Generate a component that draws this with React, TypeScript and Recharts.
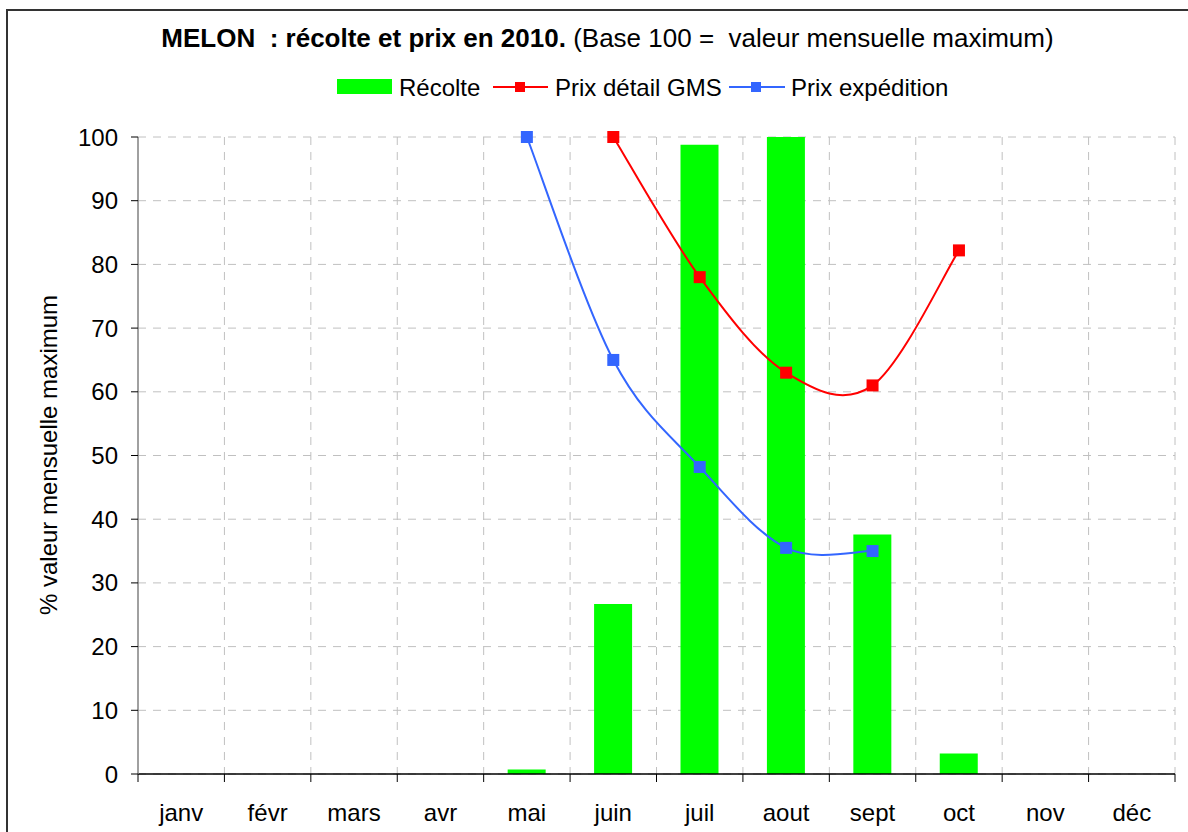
import React from 'react';
import { ComposedChart, Bar, Line, XAxis, YAxis, CartesianGrid } from 'recharts';

const months = ['janv', 'févr', 'mars', 'avr', 'mai', 'juin', 'juil', 'aout', 'sept', 'oct', 'nov', 'déc'];
const recolte: (number | null)[] = [null, null, null, null, 0.7, 26.7, 98.8, 100, 37.6, 3.2, null, null];
const prixDetail: (number | null)[] = [null, null, null, null, null, 100, 78, 63, 61, 82.2, null, null];
const prixExpedition: (number | null)[] = [null, null, null, null, 100, 65, 48.2, 35.5, 35, null, null, null];
const yTicks = [0, 10, 20, 30, 40, 50, 60, 70, 80, 90, 100];

const data = months.map((m, i) => ({
  month: m,
  recolte: recolte[i],
  prixDetail: prixDetail[i],
  prixExpedition: prixExpedition[i],
}));

const FONT = '"Liberation Sans", Arial, sans-serif';
const GREEN = '#00FF00';
const RED = '#FF0000';
const BLUE = '#3366FF';

// Excel-like smoothed line (Catmull-Rom converted to Bezier)
const excelCurve: any = (context: any) => {
  let pts: [number, number][] = [];
  return {
    areaStart() {},
    areaEnd() {},
    lineStart() {
      pts = [];
    },
    point(x: number, y: number) {
      pts.push([+x, +y]);
    },
    lineEnd() {
      const n = pts.length;
      if (n === 0) return;
      context.moveTo(pts[0][0], pts[0][1]);
      if (n === 1) {
        context.lineTo(pts[0][0], pts[0][1]);
        return;
      }
      for (let i = 0; i < n - 1; i++) {
        const p0 = pts[Math.max(0, i - 1)];
        const p1 = pts[i];
        const p2 = pts[i + 1];
        const p3 = pts[Math.min(n - 1, i + 2)];
        context.bezierCurveTo(
          p1[0] + (p2[0] - p0[0]) / 6,
          p1[1] + (p2[1] - p0[1]) / 6,
          p2[0] - (p3[0] - p1[0]) / 6,
          p2[1] - (p3[1] - p1[1]) / 6,
          p2[0],
          p2[1]
        );
      }
    },
  };
};

const squareDot = (color: string, name: string) => (props: any) => {
  const { cx, cy, index, value } = props;
  if (cx == null || cy == null || value == null || Number.isNaN(cy)) return <g key={`${name}-${index}`} />;
  return <rect key={`${name}-${index}`} x={cx - 6} y={cy - 6} width={12} height={12} fill={color} />;
};

const XTick = (props: any) => {
  const { x, y, payload, index } = props;
  const half = payload && typeof payload.offset === 'number' && payload.offset > 0 ? payload.offset : 1037 / 24;
  return (
    <g>
      <line x1={x - half} x2={x - half} y1={y} y2={y + 8} stroke="#000" strokeWidth={1} />
      {index === months.length - 1 && (
        <line x1={x + half} x2={x + half} y1={y} y2={y + 8} stroke="#000" strokeWidth={1} />
      )}
      <text x={x} y={y + 47} textAnchor="middle" fontSize={24} fontFamily={FONT} fill="#000">
        {payload.value}
      </text>
    </g>
  );
};

export default function App() {
  return (
    <div
      style={{
        position: 'fixed',
        left: 0,
        top: 0,
        width: 1188,
        height: 832,
        overflow: 'hidden',
        background: '#fff',
      }}
    >
      <div
        style={{
          position: 'absolute',
          left: 6,
          top: 9,
          width: 1400,
          height: 1000,
          border: '2px solid #333',
          boxSizing: 'border-box',
        }}
      />
      <div style={{ position: 'absolute', left: 0, top: 0 }}>
        <ComposedChart width={1188} height={832} data={data} margin={{ top: 137, right: 13, bottom: 0, left: 0 }}>
          <CartesianGrid
            stroke="#C0C0C0"
            strokeDasharray="8 7"
            verticalCoordinatesGenerator={(args: any) => {
              const off = args.offset;
              return months.map((_, i) => off.left + ((i + 1) * off.width) / months.length);
            }}
          />
          <XAxis
            dataKey="month"
            interval={0}
            tickSize={0}
            tickMargin={0}
            tickLine={false}
            axisLine={{ stroke: '#000', strokeWidth: 1.5 }}
            tick={<XTick />}
            height={58}
          />
          <YAxis
            domain={[0, 100]}
            ticks={yTicks}
            width={138}
            tickSize={7}
            tickMargin={13}
            axisLine={{ stroke: '#808080', strokeWidth: 1.5 }}
            tickLine={{ stroke: '#000' }}
            tick={{ fontSize: 24, fontFamily: FONT, fill: '#000' }}
            interval={0}
          />
          <Bar dataKey="recolte" fill={GREEN} barSize={38} isAnimationActive={false} />
          <Line
            dataKey="prixDetail"
            type={excelCurve}
            stroke={RED}
            strokeWidth={2}
            dot={squareDot(RED, 'r')}
            activeDot={false}
            isAnimationActive={false}
          />
          <Line
            dataKey="prixExpedition"
            type={excelCurve}
            stroke={BLUE}
            strokeWidth={2}
            dot={squareDot(BLUE, 'b')}
            activeDot={false}
            isAnimationActive={false}
          />
        </ComposedChart>
      </div>
      <svg
        width={1188}
        height={832}
        style={{ position: 'absolute', left: 0, top: 0, pointerEvents: 'none' }}
        fontFamily={FONT}
      >
        <text x={607.5} y={47} textAnchor="middle" fontSize={26} fill="#000" style={{ whiteSpace: 'pre' }}>
          <tspan fontWeight="bold">{'MELON  : récolte et prix en 2010.'}</tspan>
          <tspan>{' (Base 100 =  valeur mensuelle maximum)'}</tspan>
        </text>
        <rect x={337} y={79} width={55} height={15} fill={GREEN} />
        <text x={399} y={96} fontSize={24} fill="#000">Récolte</text>
        <line x1={493} x2={548} y1={87} y2={87} stroke={RED} strokeWidth={2} />
        <rect x={515} y={82} width={10} height={10} fill={RED} />
        <text x={555} y={96} fontSize={24} fill="#000">Prix détail GMS</text>
        <line x1={729} x2={785} y1={87} y2={87} stroke={BLUE} strokeWidth={2} />
        <rect x={751} y={82} width={10} height={10} fill={BLUE} />
        <text x={791} y={96} fontSize={24} fill="#000">Prix expédition</text>
        <text x={57} y={455} textAnchor="middle" fontSize={24} fill="#000" transform="rotate(-90 57 455)">
          % valeur mensuelle maximum
        </text>
      </svg>
    </div>
  );
}
